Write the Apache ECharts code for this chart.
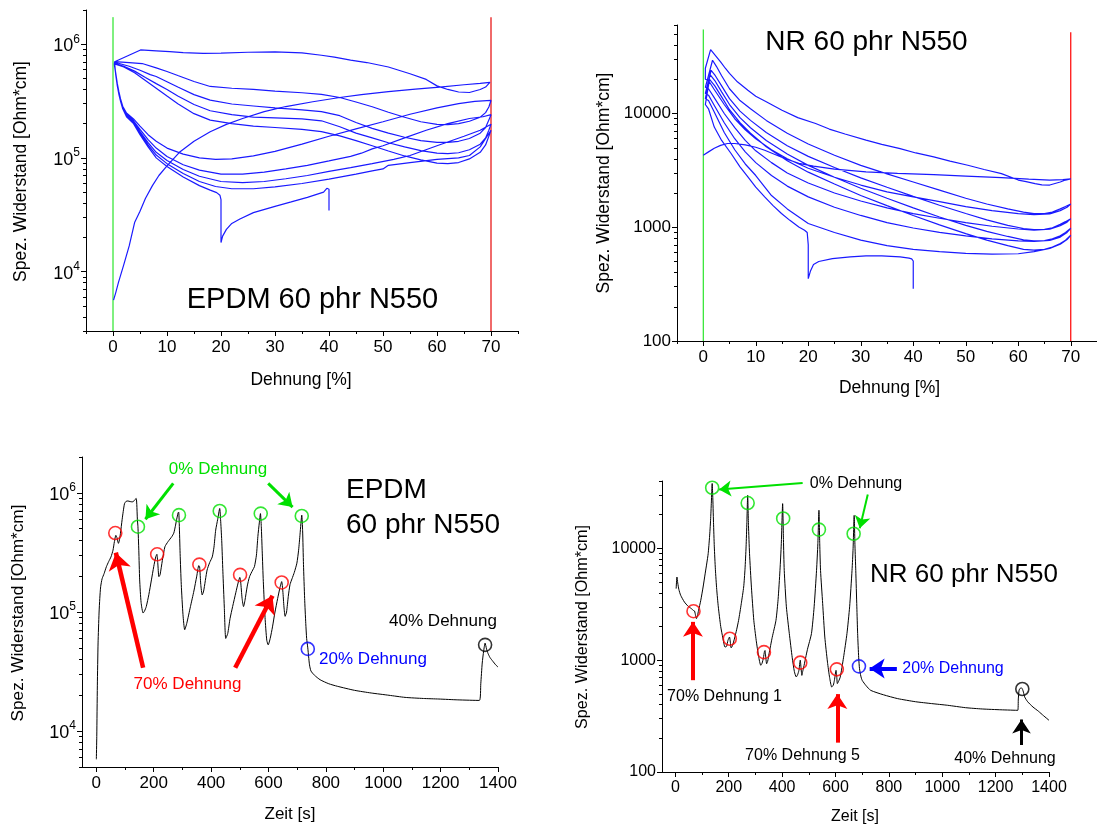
<!DOCTYPE html>
<html><head><meta charset="utf-8">
<script src="https://cdn.jsdelivr.net/npm/echarts@6/dist/echarts.min.js"></script>
<style>html,body{margin:0;padding:0;background:#fff}#c{width:1097px;height:825px}</style>
</head><body><div id="c"></div>
<script>
// ---------- EPDM: resistivity vs strain (Dehnung %) ----------
const epdmL1 = [[0.1,5600],[0.5,6500],[1,8000],[2,11500],[3,16800],[4,27000],[5,34000],[6,44000],[7.3,57000],[8.5,70000],[10,85000],[12.3,112000],[15,140000],[18,170000],[21,197000],[24,222000],[28,255000],[32,283000],[37,312000],[42,340000],[46,360000],[51,383000],[56,402000],[60.5,420000],[65,440000],[68,452000],[69.8,462000]];
const epdmU1 = [[70,460000],[69,420000],[68,400000],[66,376000],[64,380000],[62,400000],[60,430000],[58,490000],[55,550000],[51,630000],[47,690000],[44,725000],[41,770000],[38.6,800000],[35,840000],[30,855000],[25,850000],[20,835000],[16.7,830000],[13,845000],[10.5,860000],[8,875000],[5.1,890000],[0.3,700000]];
const epdmL2 = [[0.25,670000],[0.5,560000],[0.8,450000],[1.1,380000],[1.4,330000],[1.8,285000],[2.5,248000],[3.8,220000],[5,190000],[6.5,160000],[8,140000],[10,122000],[13,108000],[16,100000],[19,97000],[22,98000],[26,104000],[30,114000],[35,132000],[40,155000],[45,180000],[50,208000],[55,242000],[60,275000],[64,300000],[67,314000],[70,320000]];
const epdmU2 = [[70,320000],[69.6,280000],[69,250000],[68,228000],[66,210000],[64,200000],[62,196000],[60,197000],[57,208000],[54,228000],[51,252000],[48,282000],[45,310000],[42,340000],[38.6,362000],[35,374000],[30,386000],[26,400000],[22,410000],[18,425000],[15,470000],[12,530000],[10,575000],[8,620000],[5.4,676000],[3,690000],[1,700000],[0.3,700000]];
const epdmL3 = [[0.25,665000],[0.5,555000],[0.8,445000],[1.1,375000],[1.4,325000],[1.8,280000],[2.5,243000],[3.8,212000],[5,178000],[6.5,145000],[8,122000],[10,103000],[13,87000],[16,78000],[20,72000],[24,72000],[28,75000],[32,80000],[36,86000],[40,94000],[44,103000],[46,110000],[48,120000],[50,128000],[54,150000],[58,175000],[62,200000],[66,222000],[68.5,230000],[70,240000]];
const epdmU3 = [[70,240000],[69.6,215000],[69,185000],[68,165000],[66,148000],[64,140000],[62,137000],[60,137000],[57,142000],[54,152000],[51,165000],[48,182000],[45,205000],[42,235000],[38.6,255000],[35,264000],[30,275000],[26,286000],[22,298000],[18,322000],[15,360000],[12,420000],[10,468000],[8,520000],[6.9,540000],[5,590000],[3,640000],[1,680000],[0.3,690000]];
const epdmL4 = [[0.25,660000],[0.5,550000],[0.8,440000],[1.1,370000],[1.4,322000],[1.8,277000],[2.5,238000],[3.8,207000],[5,170000],[6.5,136000],[8,112000],[10,95000],[13,79000],[16,69000],[20,62000],[24,60500],[28,62000],[32,65500],[36,70000],[40,76000],[44,82000],[48,89000],[52,97000],[55,105000],[60,128000],[65,155000],[68,175000],[70,198000]];
const epdmU4 = [[70,198000],[69.6,175000],[69,150000],[68,132000],[66,118000],[64,111000],[62,109000],[60,110000],[57,116000],[54,125000],[51,136000],[48,150000],[45,165000],[42,188000],[38.6,212000],[35,220000],[30,225000],[26,228000],[22,240000],[18,260000],[15,295000],[12,350000],[10,400000],[8,450000],[6,510000],[4,580000],[2,640000],[0.3,680000]];
const epdmL5 = [[0.25,655000],[0.5,545000],[0.8,435000],[1.1,365000],[1.4,318000],[1.8,274000],[2.5,234000],[3.8,203000],[5,164000],[6.5,130000],[8,106000],[10,89000],[13,73000],[16,62000],[19,56000],[22,53500],[26,53500],[30,55500],[35,59500],[40,65000],[45,72000],[48,77000],[50,80000],[51,86000],[55,91000],[60,97000],[64,100000],[66,105000],[68,125000],[70,175000]];
const epdmU5 = [[70,175000],[69.6,155000],[69,130000],[68,112000],[66,98000],[64,91000],[62,89000],[60,90000],[57,96000],[54,104000],[51,115000],[48,128000],[45,142000],[42,156000],[38.6,170000],[35,178000],[30,185000],[26,190000],[22,200000],[18,215000],[15,245000],[12,300000],[10,350000],[8,410000],[6,480000],[4,560000],[2,630000],[0.3,670000]];
const epdmL6 = [[0.25,650000],[0.5,540000],[0.8,430000],[1.1,360000],[1.4,315000],[1.8,270000],[2.5,230000],[3.8,200000],[5,160000],[6.5,125000],[8,100000],[10,84000],[13,68000],[16,57000],[18,52000],[19.2,49500],[19.8,47000],[20,43000],[20,30000],[20,18000]];
const epdmL7 = [[20,18000],[20.3,20500],[21,23500],[22,26500],[23.5,29000],[26,33000],[30,37500],[33,41000],[36,45000],[39,50000],[39.6,54000],[40,53000],[40,43000],[40,34500]];

// ---------- NR: resistivity vs strain ----------
const nrL1 = [[0,4300],[1,4600],[2.1,4950],[3.3,5250],[4.6,5450],[6,5450],[8,5300],[10,5050],[11.7,4750],[14,4300],[16,3950],[18.2,3650],[21,3450],[25,3250],[31,3070],[37,2980],[43.9,2900],[50,2820],[56.8,2730],[62,2650],[66,2600],[68.5,2620],[70,2660]];
const nrU1 = [[70,2680],[69,2600],[68,2500],[66,2350],[64.5,2360],[63.2,2420],[61.5,2520],[60,2600],[56.8,2960],[53.5,3220],[50.4,3510],[47,3820],[43.9,4160],[40.5,4500],[37.5,4920],[34,5350],[31,5830],[27,6600],[24,7300],[21.4,8160],[18,9200],[15,10700],[12,12700],[10,14200],[8.5,16000],[6.5,19000],[5,22500],[4.2,25000],[3.3,28500],[1.4,36500],[0.4,25000]];
const nrL2 = [[0.4,20000],[1,19500],[2,16500],[4,12000],[6,9000],[8,7200],[10,6000],[13,4800],[16,4000],[20,3300],[25,2750],[30,2350],[35,2050],[40,1850],[45,1680],[50,1520],[55,1400],[60,1320],[63,1290],[66,1310],[68,1400],[69.3,1500],[70,1600]];
const nrU2 = [[70,1600],[69,1520],[68,1450],[66.5,1360],[65,1320],[63,1320],[61,1360],[58,1450],[54,1600],[50,1800],[45,2120],[40,2500],[35,2950],[30,3500],[25,4300],[20,5400],[16,6700],[12,8700],[9,11000],[7,13000],[5,16500],[3.5,21500],[2.5,26000],[1.77,29400],[0.4,17000]];
const nrL3 = [[0.4,17000],[1,16500],[2,14000],[4,10000],[6,7500],[8,5800],[10,4700],[13,3700],[16,3000],[20,2450],[25,2000],[30,1700],[35,1480],[40,1320],[45,1200],[50,1100],[55,1020],[60,965],[63,945],[66,960],[68,1030],[69.3,1110],[70,1190]];
const nrU3 = [[70,1190],[69,1120],[68,1060],[66.5,990],[65,960],[63,955],[61,975],[58,1040],[54,1160],[50,1320],[45,1560],[40,1870],[35,2250],[30,2720],[25,3350],[20,4200],[16,5200],[12,6800],[9,8700],[7,10500],[5,13500],[3.5,17500],[2.3,21500],[1.5,24000],[0.4,15000]];
const nrL4 = [[0.4,15000],[1,14500],[2,12000],[4,8300],[6,6000],[8,4600],[10,3700],[13,2850],[16,2300],[20,1850],[25,1500],[30,1270],[35,1100],[40,985],[45,900],[50,840],[55,790],[60,760],[63,750],[66,765],[68,820],[69.3,900],[70,980]];
const nrU4 = [[70,980],[69,900],[68,840],[66.5,790],[65,765],[63,760],[61,775],[58,830],[54,920],[50,1040],[45,1230],[40,1480],[35,1800],[30,2200],[25,2750],[20,3500],[16,4400],[12,5800],[9,7500],[7,9200],[5,12000],[3.5,15500],[2.2,19500],[1.3,22000],[0.4,13500]];
const nrL5 = [[0.4,13500],[1,13000],[2,10500],[4,6800],[6,4800],[8,3600],[10,2850],[13,1900],[16,1450],[20,1080],[25,900],[30,770],[35,690],[40,640],[45,610],[50,590],[55,580],[60,585],[63,610],[66,650],[68,710],[69.3,780],[70,850]];
const nrU5 = [[70,850],[69,770],[68,720],[66.5,670],[65,640],[63,630],[61,640],[58,690],[54,770],[50,880],[45,1050],[40,1270],[35,1550],[30,1900],[25,2400],[20,3050],[16,3850],[12,5100],[9,6700],[7,8300],[5,10800],[3.5,14000],[2.2,17500],[1.2,20000],[0.4,12000]];
const nrL6 = [[0.4,12000],[1,11000],[2.1,7600],[3.5,5800],[5.3,4450],[7,3400],[8.5,2770],[10,2250],[11.7,1850],[13.3,1550],[14.9,1320],[16.5,1150],[18.2,1006],[19.3,940],[19.8,900],[20,700],[20,353]];
const nrL7 = [[20,353],[20.4,410],[21,470],[22,500],[24.6,530],[28,550],[31,560],[34,560],[37.5,548],[39.2,535],[39.7,528],[40,505],[40,288]];

// ---------- time series (Zeit s, resistivity) ----------
const epdmTime = [[0,5800],[1.5,9000],[3.5,24000],[6,55000],[9.4,98000],[12,130000],[15,163000],[20,190000],[27,210000],[35,240000],[43,265000],[51,290000],[58,330000],[63,390000],[68,440000],[72,420000],[77,377000],[80,395000],[84,457000],[90,600000],[98,810000],[104,850000],[110,855000],[118,845000],[125,840000],[130,850000],[135,880000],[139,897000],[141,800000],[143,600000],[145,520000],[148,330000],[151,186000],[156,120000],[163,98000],[168,102000],[174,111000],[183,140000],[192,186000],[200,240000],[207,290000],[211,305000],[214,260000],[218,198000],[222,205000],[230,270000],[239,353000],[250,390000],[263,429000],[270,460000],[275,520000],[280,600000],[285,680000],[287,690000],[289,550000],[292,310000],[296,170000],[302,95000],[308,71000],[315,80000],[328,111000],[340,150000],[350,200000],[357,245000],[360,240000],[364,170000],[369,139000],[374,150000],[386,225000],[395,260000],[404,290000],[410,350000],[416,487000],[423,600000],[430,740000],[433,600000],[437,400000],[441,220000],[446,110000],[451,60000],[458,66000],[466,88000],[475,111000],[486,145000],[494,175000],[500,195000],[503,180000],[508,130000],[513,111000],[518,125000],[526,165000],[534,198000],[545,225000],[551,240000],[558,300000],[563,430000],[568,560000],[572,670000],[575,520000],[578,330000],[582,180000],[588,90000],[594,58000],[599,53000],[606,60000],[614,75000],[622,98000],[632,130000],[640,160000],[646,180000],[650,150000],[654,110000],[658,92000],[663,100000],[669,135000],[675,170000],[682,190000],[690,215000],[699,257000],[705,330000],[710,450000],[716,650000],[719,480000],[722,250000],[726,130000],[730,80000],[733,60000],[737,50000],[740,42000],[743,36000],[748,32000],[760,29500],[780,27000],[810,25000],[840,23800],[900,22000],[958,20900],[1020,20000],[1076,19200],[1140,18800],[1194,18600],[1260,18300],[1335,18100],[1340,25000],[1345,37300],[1350,47000],[1355,54800],[1360,49000],[1365,45000],[1372,41500],[1382,38600],[1392,36000],[1400,34500]];
const nrTime = [[3,4360],[6,5540],[9,4900],[13,4300],[20,3800],[34,3310],[47,3050],[60,2890],[68,2780],[72,2750],[76,2500],[79,2350],[83,2500],[87,2790],[95,3400],[104,4510],[112,6000],[118,7400],[123,8960],[128,12500],[132,17800],[135,26000],[138,38000],[140,30000],[143,17000],[146,10300],[150,6500],[155,4300],[161,2990],[170,2000],[178,1580],[186,1310],[192,1330],[197,1500],[203,1610],[206,1450],[209,1290],[213,1330],[218,1450],[228,1800],[237,2270],[247,3200],[256,4510],[261,6500],[265,10300],[268,17000],[271,29800],[274,16000],[278,8960],[285,4500],[294,2270],[303,1500],[312,1080],[320,900],[325,940],[330,1050],[334,1200],[336,1220],[339,1050],[342,930],[346,980],[351,1140],[363,1600],[377,2270],[385,3500],[392,6350],[397,11000],[402,25100],[405,12000],[408,6350],[416,3000],[427,1730],[438,1050],[446,790],[453,708],[458,740],[463,811],[468,1000],[471,850],[474,731],[477,790],[481,868],[495,1250],[510,1730],[520,3000],[529,6350],[534,11000],[538,21900],[541,11000],[544,6350],[552,3200],[560,1610],[570,960],[578,700],[586,575],[592,600],[596,660],[602,811],[605,700],[607,617],[612,650],[618,708],[630,1050],[643,1730],[653,3000],[662,6350],[666,10000],[670,19700],[673,10500],[676,6350],[680,3000],[683,1730],[687,1050],[690,840],[695,720],[700,660],[715,590],[732,537],[780,490],[833,453],[900,425],[960,409],[1020,395],[1087,376],[1150,366],[1220,360],[1283,356],[1285,450],[1288,540],[1292,560],[1296,565],[1300,556],[1305,510],[1309,468],[1320,425],[1340,381],[1360,350],[1380,318],[1400,290]];

// ---------- markers ----------
const epdmCircles0 = [[145,520000],[288,650000],[430,705000],[573,670000],[716,640000]];
const epdmCircles70 = [[66,460000],[212,305000],[359,250000],[501,205000],[646,177000]];
const epdmCircle20 = [[737,49000]];
const epdmCircle40 = [[1355,53000]];
const nrCircles0 = [[138,34800],[271,25400],[404,18500],[538,14700],[668,13500]];
const nrCircles70 = [[68,2740],[204,1555],[332,1180],[468,950],[605,828]];
const nrCircle20 = [[688,880]];
const nrCircle40 = [[1300,552]];

// arrows: [from, to] in data coordinates
const epdmArrowsGreen = [[[268,1200000],[171,600000]],[[599,1200000],[684,760000]]];
const epdmArrowsRed = [[[163,34100],[68,315000]],[[484,34100],[614,137000]]];
const nrArrowsGreen = [[[477,38300],[164,33600]],[[721,30300],[691,15100]]];
const nrArrowsRed = [[[66,662],[66,2200]],[[607,183],[607,497]]];
const nrArrowsBlue = [[[830,844],[728,844]]];
const nrArrowsBlack = [[[1297,174],[1297,295]]];

// ---------- ticks ----------
const strainTicks = [0,10,20,30,40,50,60,70];
const strainMinor = [-5,5,15,25,35,45,55,65,75];
const timeTicks = [0,200,400,600,800,1000,1200,1400];
const timeMinor = [100,300,500,700,900,1100,1300];
const epdmStrainY = [1e4,1e5,1e6];
const nrStrainY = [100,1000,10000];
const epdmTimeY = [1e4,1e5,1e6];
const nrTimeY = [100,1000,10000];

const FF = '"Liberation Sans", Arial, sans-serif';
function minorLog(min, max) {
  const out = [];
  for (let d = -1; d <= 8; d++) for (let m = 2; m <= 9; m++) {
    const v = m * Math.pow(10, d);
    if (v >= min * 0.999 && v <= max * 1.001) out.push(v);
  }
  return out;
}
function xMain(gi, min, max, ticks, fs) {
  return {type:'value', gridIndex:gi, min, max, position:'bottom',
    axisLine:{show:true,onZero:false,lineStyle:{color:'#000',width:1}},
    axisTick:{show:true,customValues:ticks,length:5,lineStyle:{color:'#000',width:1}},
    axisLabel:{show:true,customValues:ticks,fontSize:fs,color:'#000',fontFamily:FF,margin:8,
      formatter: v => String(Math.round(v))},
    splitLine:{show:false}};
}
function xMinor(gi, min, max, ticks) {
  return {type:'value', gridIndex:gi, min, max, position:'bottom',
    axisLine:{show:false,onZero:false},
    axisTick:{show:true,customValues:ticks,length:3,lineStyle:{color:'#000',width:1}},
    axisLabel:{show:false}, splitLine:{show:false}};
}
function yMain(gi, min, max, ticks, fs, sup) {
  return {type:'log', logBase:10, gridIndex:gi, min, max, position:'left',
    axisLine:{show:true,onZero:false,lineStyle:{color:'#000',width:1}},
    axisTick:{show:true,customValues:ticks,length:5,lineStyle:{color:'#000',width:1}},
    axisLabel:{show:true,customValues:ticks,color:'#000',fontFamily:FF,fontSize:fs,margin:6,
      formatter: sup ? (v => '{b|10}{s|' + Math.round(Math.log10(v)) + '}') : (v => String(Math.round(v))),
      rich: sup ? {b:{fontSize:fs+1,fontFamily:FF,color:'#000',lineHeight:22,verticalAlign:'bottom'},
                   s:{fontSize:12,fontFamily:FF,color:'#000',lineHeight:22,verticalAlign:'top'}} : undefined},
    splitLine:{show:false}};
}
function yMinor(gi, min, max) {
  return {type:'log', logBase:10, gridIndex:gi, min, max, position:'left',
    axisLine:{show:false,onZero:false},
    axisTick:{show:true,customValues:minorLog(min,max),length:3,lineStyle:{color:'#000',width:1}},
    axisLabel:{show:false}, splitLine:{show:false}};
}
function curve(xi, yi, data, color, width, smooth) {
  return {type:'line', xAxisIndex:xi, yAxisIndex:yi, data, showSymbol:false, symbol:'none',
    smooth: smooth || false, lineStyle:{color, width}, silent:true, z:3};
}
function circles(xi, yi, data, color) {
  return {type:'scatter', xAxisIndex:xi, yAxisIndex:yi, data, symbol:'circle', symbolSize:13,
    itemStyle:{color:'rgba(0,0,0,0)', borderColor:color, borderWidth:1.6}, z:5, silent:true};
}
function arrows(xi, yi, list, color, width, size) {
  return {type:'lines', coordinateSystem:'cartesian2d', xAxisIndex:xi, yAxisIndex:yi,
    data: list.map(c => ({coords:c})), symbol:['none','arrow'], symbolSize:size,
    lineStyle:{color, width, opacity:1, curveness:0}, z:6, silent:true};
}
function txt(x, y, text, size, color, align, rot) {
  return {type:'text', x, y, rotation: rot || 0, z:10, silent:true,
    style:{text, fill:color||'#000', font: size + 'px ' + FF, textAlign: align||'center', textVerticalAlign:'middle'}};
}

const epdmLoops = [].concat(epdmL1, epdmU1, epdmL2, epdmU2, epdmL3, epdmU3, epdmL4, epdmU4, epdmL5, epdmU5, epdmL6, epdmL7);
const nrLoops = [].concat(nrL1, nrU1, nrL2, nrU2, nrL3, nrU3, nrL4, nrU4, nrL5, nrU5, nrL6, nrL7);

const chart = echarts.init(document.getElementById('c'), null, {renderer:'canvas'});
const option = {
  animation:false,
  backgroundColor:'#ffffff',
  grid:[
    {left:86, top:10, width:432, height:321},
    {left:677, top:25, width:425, height:316},
    {left:82, top:457, width:416, height:310},
    {left:662, top:481, width:387, height:291}
  ],
  xAxis:[
    xMain(0,-5,75,strainTicks,17), xMain(1,-5,75,strainTicks,17),
    xMain(2,-50,1400,timeTicks,17), xMain(3,-50,1400,timeTicks,16),
    xMinor(0,-5,75,strainMinor), xMinor(1,-5,75,strainMinor),
    xMinor(2,-50,1400,timeMinor), xMinor(3,-50,1400,timeMinor)
  ],
  yAxis:[
    yMain(0,3000,2e6,epdmStrainY,17,true), yMain(1,100,60000,nrStrainY,17,false),
    yMain(2,5000,2e6,epdmTimeY,17,true), yMain(3,100,40000,nrTimeY,16,false),
    yMinor(0,3000,2e6), yMinor(1,100,60000), yMinor(2,5000,2e6), yMinor(3,100,40000)
  ],
  series:[
    curve(0,0,[[0,3000],[0,1730000]],'#00e000',1),
    curve(0,0,[[70,3000],[70,1730000]],'#f06a6a',2),
    curve(0,0,epdmLoops,'#1a1aff',1.2),
    curve(1,1,[[0,100],[0,54800]],'#00e000',1),
    curve(1,1,[[70,100],[70,51900]],'#ff0000',1.2),
    curve(1,1,nrLoops,'#1a1aff',1.2),
    curve(2,2,epdmTime,'#000',1,0.2),
    curve(3,3,nrTime,'#000',1,0.2),
    circles(2,2,epdmCircles0,'#00e000'), circles(2,2,epdmCircles70,'#ff0000'),
    circles(2,2,epdmCircle20,'#0000ff'), circles(2,2,epdmCircle40,'#000'),
    circles(3,3,nrCircles0,'#00e000'), circles(3,3,nrCircles70,'#ff0000'),
    circles(3,3,nrCircle20,'#0000ff'), circles(3,3,nrCircle40,'#000'),
    arrows(2,2,epdmArrowsGreen,'#00e000',3,13),
    arrows(2,2,epdmArrowsRed,'#ff0000',4.5,17),
    arrows(3,3,nrArrowsGreen,'#00e000',2,12),
    arrows(3,3,nrArrowsRed,'#ff0000',4,15),
    arrows(3,3,nrArrowsBlue,'#0000ff',4,15),
    arrows(3,3,nrArrowsBlack,'#000',3,14)
  ],
  graphic:[
    txt(21,171.5,'Spez. Widerstand [Ohm*cm]',17.5,'#000','center',Math.PI/2),
    txt(301,380,'Dehnung [%]',17.5),
    txt(312.5,300,'EPDM 60 phr N550',29),
    txt(604,183,'Spez. Widerstand [Ohm*cm]',17.5,'#000','center',Math.PI/2),
    txt(889.5,388,'Dehnung [%]',17.5),
    txt(866.5,42,'NR 60 phr N550',28),
    txt(18.5,613,'Spez. Widerstand [Ohm*cm]',17.2,'#000','center',Math.PI/2),
    txt(290,814,'Zeit [s]',17),
    txt(346,490.7,'EPDM',28,'#000','left'),
    txt(346,525,'60 phr N550',28,'#000','left'),
    txt(218,469,'0% Dehnung',17,'#00e000'),
    txt(187.5,684,'70% Dehnung',17,'#ff0000'),
    txt(443,621,'40% Dehnung',17,'#000'),
    txt(373,659,'20% Dehnung',17,'#0000ff'),
    txt(583,627,'Spez. Widerstand [Ohm*cm]',16.2,'#000','center',Math.PI/2),
    txt(855,817,'Zeit [s]',16),
    txt(870,575,'NR 60 phr N550',26,'#000','left'),
    txt(856,484,'0% Dehnung',16,'#000'),
    txt(724.5,697,'70% Dehnung 1',16,'#000'),
    txt(802.5,756,'70% Dehnung 5',16,'#000'),
    txt(1005,759,'40% Dehnung',16,'#000'),
    txt(953,669,'20% Dehnung',16,'#0000ff')
  ]
};
chart.setOption(option);
</script></body></html>
